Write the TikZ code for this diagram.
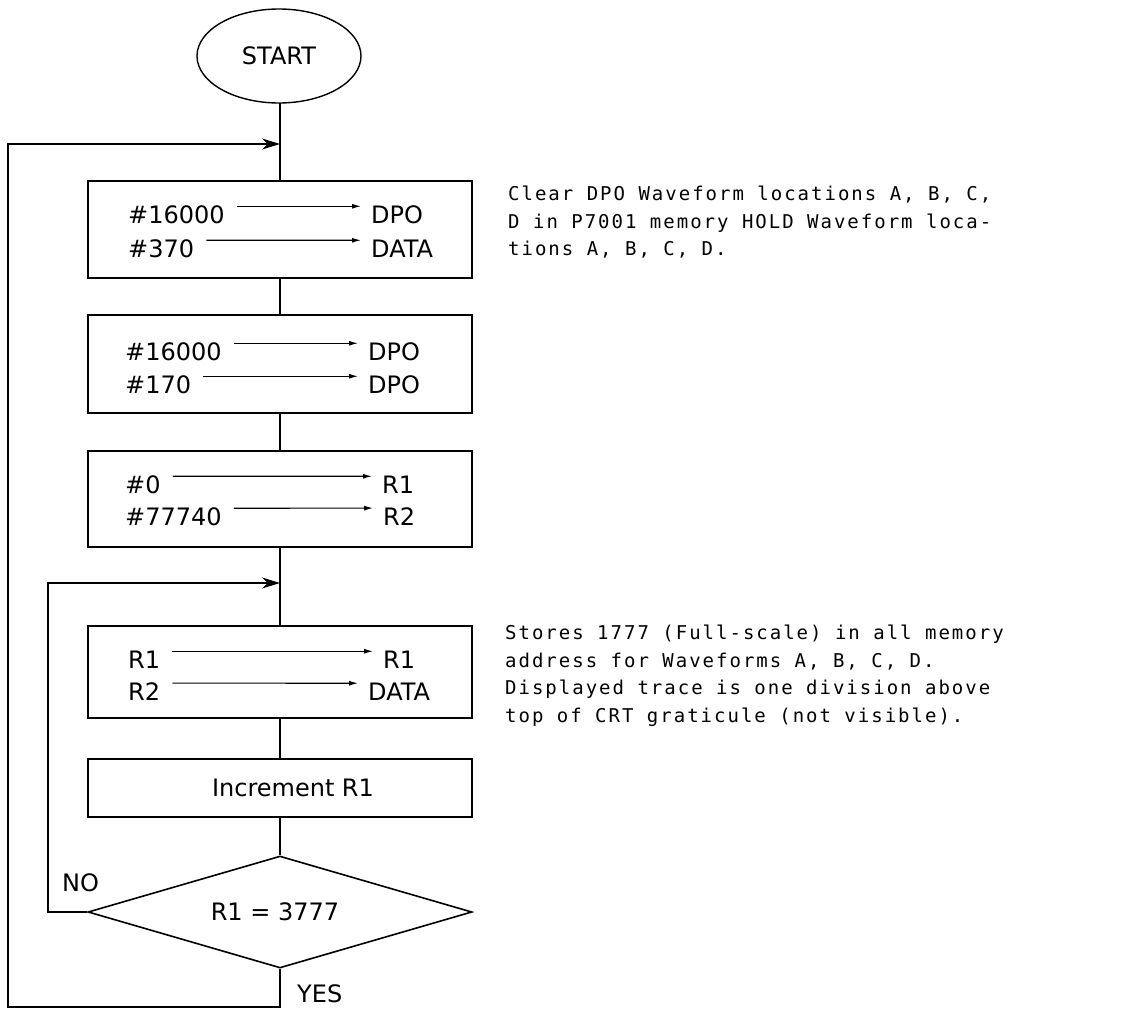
\documentclass[tikz,border=0pt]{standalone}
\usepackage{fontspec}
\setmainfont{DejaVu Sans}
\newfontfamily\notefont[LetterSpace=10.5]{DejaVu Sans Mono}
\usetikzlibrary{shapes.geometric,arrows.meta}
\begin{document}
\begin{tikzpicture}[x=1pt,y=-1pt,
  box/.style={draw, line width=1.6pt, minimum width=384pt, inner sep=0pt, font=\fontsize{24}{28}\selectfont},
  lbl/.style={inner sep=0pt, anchor=base west, font=\fontsize{24}{28}\selectfont},
  flow/.style={line width=1.6pt},
  mv/.style={line width=1.1pt, -{Latex[length=9pt,width=5pt]}, shorten <=12pt, shorten >=10pt},
  loopline/.style={line width=1.6pt, -{Stealth[length=18pt,width=11pt]}},
  note/.style={inner sep=0pt, anchor=north west, align=left, font=\notefont\fontsize{19}{27.5}\selectfont}]
\useasboundingbox (0,0) rectangle (1126,1009);

% main nodes
\node[draw, ellipse, line width=1.4pt, minimum width=164pt, minimum height=94pt, inner sep=0pt, font=\fontsize{24}{28}\selectfont] (start) at (279,56) {START};
\node[box, minimum height=97pt] (b1) at (280,229.5) {};
\node[box, minimum height=98pt] (b2) at (280,364) {};
\node[box, minimum height=96pt] (b3) at (280,499) {};
\node[box, minimum height=92pt] (b4) at (280,672) {};
\node[box, minimum height=58pt] (b5) at (280,788) {\hspace*{26pt}Increment R1};
\node[draw, diamond, shape aspect=3.43, line width=1.6pt, minimum width=384pt, minimum height=112pt, inner sep=0pt, font=\fontsize{24}{28}\selectfont] (dec) at (280,912) {R1 = 3777\hspace*{10pt}};

% box 1
\node[lbl] (s11) at (128,223) {\#16000};
\node[lbl] (t11) at (371,223) {DPO};
\node[lbl] (s12) at (128,257) {\#370};
\node[lbl] (t12) at (371,257) {DATA};
% box 2
\node[lbl] (s21) at (125,360) {\#16000};
\node[lbl] (t21) at (368,360) {DPO};
\node[lbl] (s22) at (125,393) {\#170};
\node[lbl] (t22) at (368,393) {DPO};
% box 3
\node[lbl] (s31) at (125,493) {\#0};
\node[lbl] (t31) at (382,493) {R1};
\node[lbl] (s32) at (125,525) {\#77740};
\node[lbl] (t32) at (383,525) {R2};
% box 4
\node[lbl] (s41) at (128,668) {R1};
\node[lbl] (t41) at (383,668) {R1};
\node[lbl] (s42) at (128,700) {R2};
\node[lbl] (t42) at (368,700) {DATA};

\foreach \r in {11,12,21,22,31,32,41,42}{
  \path (s\r.east) ++(0,-8) coordinate (a\r) (t\r.west) ++(0,-8) coordinate (e\r);
  \draw[mv] (a\r) -- (e\r);
}

% labels
\node[lbl] (no) at (62,891) {NO};
\node[lbl] (yes) at (297,1002) {YES};

% flow lines
\draw[flow] (start.south) -- (start.south -| b1.north) -- (b1.north);
\draw[flow] (b1.south) -- (b2.north);
\draw[flow] (b2.south) -- (b3.north);
\draw[flow] (b3.south) -- (b4.north);
\draw[flow] (b4.south) -- (b5.north);
\draw[flow] (b5.south) -- (dec.north);

\coordinate (j1) at (280,144);
\coordinate (j2) at (280,583);
\draw[loopline] (dec.west) -- ++(-39,0) |- (j2);
\draw[loopline] (dec.south) -- (dec.south |- 0,1007) -- (8,1007) |- (j1);

% notes
\node[note] (n1) at (508,186) {Clear DPO Waveform locations A, B, C,\\D in P7001 memory HOLD Waveform loca-\\tions A, B, C, D.};
\node[note] (n2) at (505,625) {Stores 1777 (Full-scale) in all memory\\address for Waveforms A, B, C, D.\\Displayed trace is one division above\\top of CRT graticule (not visible).};
\end{tikzpicture}
\end{document}
